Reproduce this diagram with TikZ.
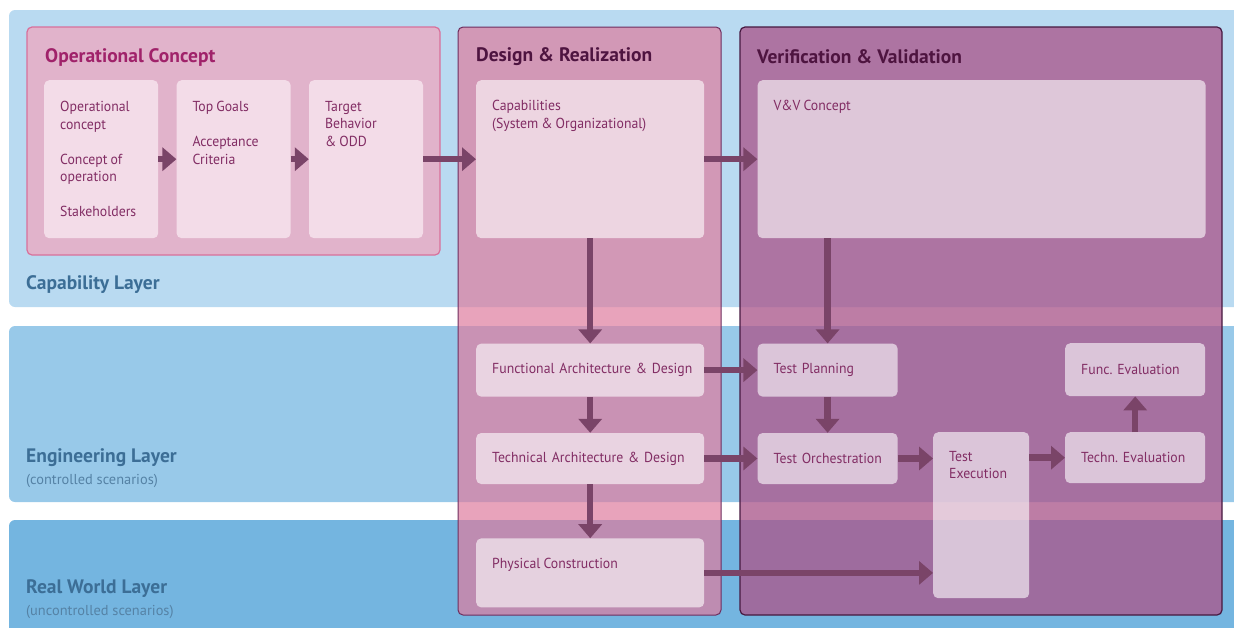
\documentclass[tikz,border=0pt]{standalone}
\usepackage{fontspec}
\setmainfont{PT Sans}
\newfontfamily\cardfam{PT Sans}[FakeStretch = 0.95, WordSpace = 0.85]
\usetikzlibrary{arrows.meta, positioning}

\definecolor{capfill}{RGB}{185,218,241}
\definecolor{engfill}{RGB}{152,201,233}
\definecolor{realfill}{RGB}{116,181,224}
\definecolor{layertext}{RGB}{60,110,150}
\definecolor{layersubtext}{RGB}{85,130,165}
\definecolor{opfill}{RGB}{225,179,203}
\definecolor{opborder}{RGB}{216,112,155}
\definecolor{optitle}{RGB}{160,34,106}
\definecolor{opcardfill}{RGB}{243,220,232}
\definecolor{drfill}{RGB}{222,124,158}
\definecolor{drborder}{RGB}{110,45,94}
\definecolor{vvfill}{RGB}{170,88,140}
\definecolor{vvborder}{RGB}{70,24,64}
\definecolor{coltitle}{RGB}{78,20,64}
\definecolor{cardtext}{RGB}{130,45,100}
\definecolor{flowcol}{RGB}{122,68,104}

\newcommand{\cardfont}{\cardfam\fontsize{14.5}{17.5}\selectfont\frenchspacing}
\newcommand{\titlefont}{\fontsize{19.5}{22}\selectfont\bfseries}

\tikzstyle{layerlabel} = [anchor = west, inner sep = 0, text = layertext,
  font = \titlefont]
\tikzstyle{layersub} = [anchor = west, inner sep = 0, text = layersubtext,
  font = \fontsize{14.4}{16}\selectfont]
\tikzstyle{coltitle} = [anchor = west, inner sep = 0, font = \titlefont]
\tikzstyle{opcard} = [
  rectangle, rounded corners = 5, anchor = north west,
  fill = opcardfill, minimum width = 114, minimum height = 158
]
\tikzstyle{card} = [
  rectangle, rounded corners = 5, anchor = north west,
  fill = white, fill opacity = 0.6, text opacity = 1,
  text = cardtext, font = \cardfont, align = left,
  inner xsep = 16, inner ysep = 0
]
\tikzstyle{cardtext} = [anchor = north west, inner sep = 0, align = left,
  text = cardtext, font = \cardfont]
\tikzstyle{flow} = [draw = flowcol, line width = 6.5,
  -{Triangle[length = 14, width = 23]}]

\begin{document}
\begin{tikzpicture}[x = 1pt, y = -1pt, node distance = 0]
    \useasboundingbox (0, 0) rectangle (1234, 627);
    \clip (0, 0) rectangle (1234, 627);

    % layers
    \fill [capfill, rounded corners = 6] (9, 10) rectangle (1250, 307);
    \fill [engfill, rounded corners = 6] (9, 326) rectangle (1250, 502);
    \fill [realfill, rounded corners = 6] (9, 520) rectangle (1250, 650);
    \node [layerlabel] (cap-layer) at (26, 285) {Capability Layer};
    \node [layerlabel] (eng-layer) at (26, 458) {Engineering Layer};
    \node [layersub] (eng-sub) at (26, 481) {(controlled scenarios)};
    \node [layerlabel] (real-layer) at (26, 589) {Real World Layer};
    \node [layersub] (real-sub) at (26, 612) {(uncontrolled scenarios)};

    % operational concept
    \draw [fill = opfill, draw = opborder, line width = 1.2, rounded corners = 5]
      (27, 27) rectangle (440, 255);
    \node [coltitle, text = optitle] (op-title) at (45, 57) {Operational Concept};
    \node [opcard] (op-1) at (44, 80) {};
    \node [opcard, right = 18pt of op-1] (op-2) {};
    \node [opcard, right = 18pt of op-2] (op-3) {};
    \node [cardtext] (op-1-txt) at ([shift = {(16, 21)}]op-1.north west)
      {Operational\\concept\\[17.5pt]Concept of\\operation\\[17.5pt]Stakeholders};
    \node [cardtext] (op-2-txt) at ([shift = {(16, 21)}]op-2.north west)
      {Top Goals\\[17.5pt]Acceptance\\Criteria};
    \node [cardtext] (op-3-txt) at ([shift = {(16, 21)}]op-3.north west)
      {Target\\Behavior\\\& ODD};

    % columns
    \draw [fill = drfill, fill opacity = 0.7, draw = drborder, line width = 1,
      rounded corners = 5] (458, 27) rectangle (721, 615);
    \draw [fill = vvfill, fill opacity = 0.78, draw = vvborder, line width = 1.2,
      rounded corners = 5] (740, 27) rectangle (1222, 615);
    \node [coltitle, text = coltitle] (dr-title) at (476, 57) {Design \& Realization};
    \node [coltitle, text = coltitle] (vv-title) at (757, 57) {Verification \& Validation};

    % design & realization
    \node [card, text width = 196, minimum height = 158] (cap) at (476, 80) {};
    \node [cardtext] (cap-txt) at ([shift = {(16, 20)}]cap.north west)
      {Capabilities\\(System \& Organizational)};
    \node [card, text width = 196, minimum height = 53, below = 105pt of cap]
      (func) {\mbox{Functional Architecture \& Design}};
    \node [card, text width = 196, minimum height = 51, below = 36pt of func]
      (tech) {\mbox{Technical Architecture \& Design}};
    \node [card, text width = 196, minimum height = 69, below = 54pt of tech]
      (phys) {};
    \node [cardtext] (phys-txt) at ([shift = {(16, 20)}]phys.north west)
      {Physical Construction};

    % verification & validation
    \node [card, text width = 416, minimum height = 158, right = 53pt of cap]
      (vvc) {};
    \node [cardtext] (vvc-txt) at ([shift = {(16, 20)}]vvc.north west)
      {V\&V Concept};
    \node [card, text width = 108, minimum height = 53, right = 53pt of func]
      (plan) {\mbox{Test Planning}};
    \node [card, text width = 108, minimum height = 51, right = 53pt of tech]
      (orch) {\mbox{Test Orchestration}};
    \node [card, text width = 64, minimum height = 166] (exec) at (933, 432) {};
    \node [cardtext] (exec-txt) at ([shift = {(16, 19)}]exec.north west)
      {Test\\Execution};
    \node [card, text width = 108, minimum height = 51] (teval) at (1065, 432)
      {\mbox{Techn. Evaluation}};
    \node [card, text width = 108, minimum height = 53] (feval) at (1065, 343)
      {\mbox{Func. Evaluation}};

    % flows
    \draw [flow] (op-1) -- (op-2);
    \draw [flow] (op-2) -- (op-3);
    \draw [flow] (op-3) -- (cap);
    \draw [flow] (cap) -- (vvc);
    \draw [flow] (cap) -- (func);
    \draw [flow] (func) -- (tech);
    \draw [flow] (tech) -- (phys);
    \draw [flow] (func) -- (plan);
    \draw [flow] (tech) -- (orch);
    \draw [flow] (plan.north |- vvc.south) -- (plan.north);
    \draw [flow] (plan) -- (orch);
    \draw [flow] (orch.east) -- (orch.east -| exec.west);
    \draw [flow] (exec.east |- teval.west) -- (teval.west);
    \draw [flow] (teval) -- (feval);
    \draw [flow] (phys.east) -- (phys.east -| exec.west);
  \end{tikzpicture}
\end{document}
